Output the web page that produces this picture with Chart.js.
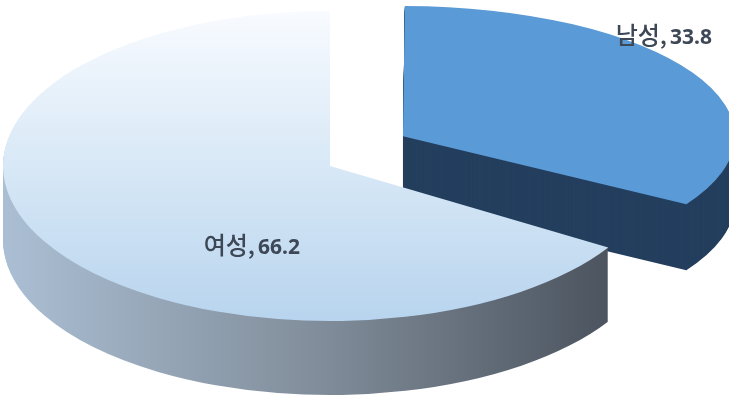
<!DOCTYPE html>
<html>
<head>
<meta charset="utf-8">
<script src="https://cdn.jsdelivr.net/npm/chart.js@4"></script>
<style>
  body { margin: 0; background: #fff; }
  #wrap { width: 729px; height: 399px; }
</style>
</head>
<body>
<div id="wrap"><canvas id="pie" width="729" height="399"></canvas></div>
<script>
const labels = ['남성', '여성'];
const values = [33.8, 66.2];

// how each slice is laid on the screen (fake perspective, one per slice)
const views = [
    { cx: 336, cy: 151, sx: 0.98, sy: 0.385, depth: 66 },
    { cx: 330, cy: 166, sx: 1, sy: 0.474, depth: 74 }
];
const topColors = ['#5a9ad6', null];
const sideColors = ['#243f5e', null];
const R = 327;

function femaleTop(chart) {
    const area = chart.chartArea;
    if (!area) return '#cfe2f3';
    const cy = (area.top + area.bottom) / 2;
    const g = chart.ctx.createLinearGradient(0, cy - R, 0, cy + R);
    g.addColorStop(0, '#f8fbff');
    g.addColorStop(0.45, '#dbeaf7');
    g.addColorStop(1, '#b8d4ee');
    return g;
}

function femaleSide(chart) {
    const area = chart.chartArea;
    const cx = (area.left + area.right) / 2;
    const g = chart.ctx.createLinearGradient(cx - R, 0, cx + R, 0);
    g.addColorStop(0, '#abbfd4');
    g.addColorStop(0.5, '#7f8b98');
    g.addColorStop(0.9, '#4e5762');
    g.addColorStop(1, '#464e58');
    return g;
}

function place(chart, ctx, v, dy) {
    const area = chart.chartArea;
    ctx.translate(v.cx, v.cy + dy);
    ctx.scale(v.sx, v.sy);
    ctx.translate(-(area.left + area.right) / 2, -(area.top + area.bottom) / 2);
}

const pie3d = {
    id: 'pie3d',
    beforeDatasetsDraw(chart) {
        const ctx = chart.ctx;
        const arcs = chart.getDatasetMeta(0).data;
        // side walls first, drawn as stacked copies of each slice
        arcs.forEach((arc, i) => {
            const v = views[i];
            const saved = arc.options;
            arc.options = Object.assign({}, saved, {
                backgroundColor: sideColors[i] || femaleSide(chart),
                borderWidth: 0
            });
            for (let d = v.depth; d >= 1; d--) {
                ctx.save();
                place(chart, ctx, v, d);
                arc.draw(ctx);
                ctx.restore();
            }
            arc.options = saved;
        });
        // then the top faces
        arcs.forEach((arc, i) => {
            ctx.save();
            place(chart, ctx, views[i], 0);
            arc.draw(ctx);
            ctx.restore();
        });
        return false;
    },
    afterDraw(chart) {
        const ctx = chart.ctx;
        const spots = [{ x: 667, y: 44 }, { x: 255, y: 254 }];
        ctx.save();
        ctx.fillStyle = '#3d4756';
        ctx.textBaseline = 'alphabetic';
        values.forEach((v, i) => {
            const p = spots[i];
            ctx.font = '500 24px "Noto Sans CJK KR"';
            ctx.textAlign = 'right';
            ctx.fillText(labels[i] + ',', p.x, p.y);
            ctx.font = 'bold 21px "Noto Sans", sans-serif';
            ctx.textAlign = 'left';
            ctx.fillText(v.toFixed(1), p.x + 3, p.y);
        });
        ctx.restore();
    }
};

new Chart(document.getElementById('pie'), {
    type: 'pie',
    data: {
        labels: labels,
        datasets: [{
            data: values,
            backgroundColor: (c) => topColors[c.dataIndex] || femaleTop(c.chart),
            borderWidth: 0,
            offset: [313, 0],
            clip: false
        }]
    },
    options: {
        responsive: false,
        animation: false,
        radius: R,
        layout: { padding: 0 },
        plugins: {
            legend: { display: false },
            tooltip: { enabled: false }
        }
    },
    plugins: [pie3d]
});
</script>
</body>
</html>
